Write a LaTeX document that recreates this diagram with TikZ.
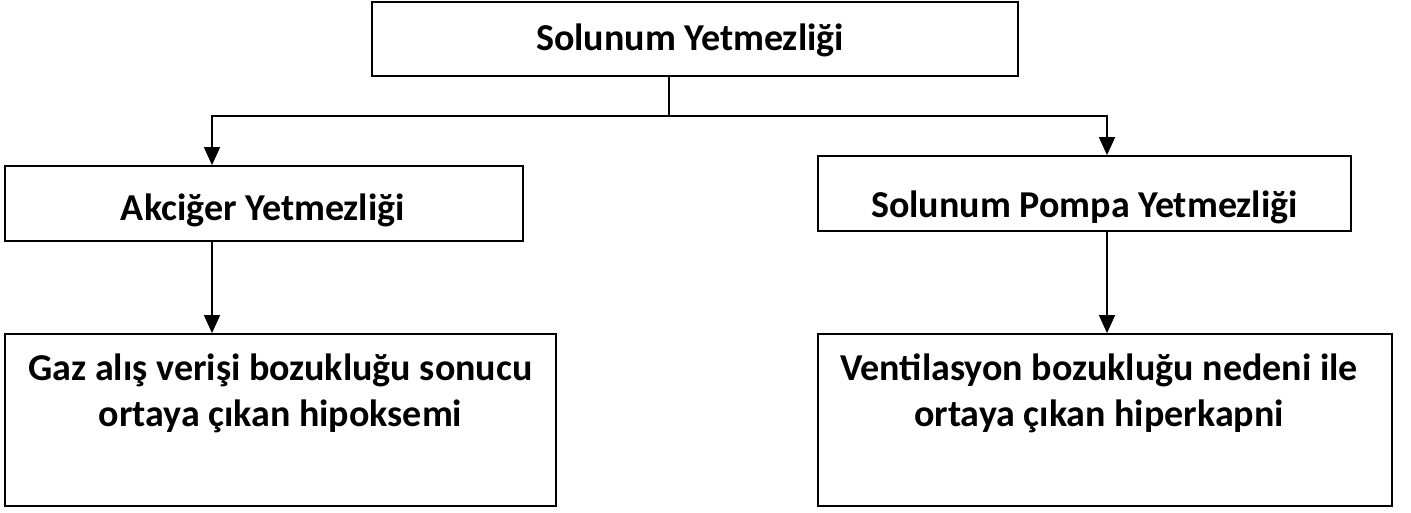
\documentclass[tikz,border=0pt]{standalone}
\usepackage{fontspec}
\setmainfont{Carlito}
\usetikzlibrary{arrows.meta}
\tikzset{
  box/.style={draw=black, line width=1.8pt, rectangle, inner sep=0pt, fill=white},
  lbl/.style={inner sep=0pt, font=\bfseries\fontsize{38}{46}\selectfont, align=center},
  arr/.style={line width=1.6pt, -{Triangle[length=18pt,width=16pt]}},
  conn/.style={line width=1.6pt}
}
\begin{document}
\begin{tikzpicture}[x=1pt,y=-1pt]
\useasboundingbox (0,0) rectangle (1411,512);
% boxes
\node[box, minimum width=646pt, minimum height=74pt] (top) at (695,39) {};
\node[box, minimum width=518pt, minimum height=75pt] (akc) at (264,203.5) {};
\node[box, minimum width=533pt, minimum height=75pt] (pom) at (1084.5,193.5) {};
\node[box, minimum width=551pt, minimum height=172pt] (gaz) at (280.5,420) {};
\node[box, minimum width=574pt, minimum height=172pt] (ven) at (1105,420) {};
% texts
\node[lbl, anchor=base] (toptxt) at (690,50) {Solunum Yetmezliği};
\node[lbl, anchor=base] (akctxt) at (263,220) {Akciğer Yetmezliği};
\node[lbl, anchor=base] (pomtxt) at (1084.5,217) {Solunum Pompa Yetmezliği};
\node[lbl, anchor=base] (gaztxt) at (280.5,426) {Gaz alış verişi bozukluğu sonucu\\ortaya çıkan hipoksemi};
\node[lbl, anchor=base] (ventxt) at (1099,426) {Ventilasyon bozukluğu nedeni ile\\ortaya çıkan hiperkapni};
% connectors
\coordinate (j) at (669,116);
\coordinate (la) at (212,116);
\coordinate (ra) at (1107,116);
\draw[conn] (top.south -| j) -- (j);
\draw[arr] (j) -- (la) -- (la |- akc.north);
\draw[arr] (j) -- (ra) -- (ra |- pom.north);
\draw[arr] (akc.south -| la) -- (gaz.north -| la);
\draw[arr] (pom.south -| ra) -- (ven.north -| ra);
\end{tikzpicture}
\end{document}
